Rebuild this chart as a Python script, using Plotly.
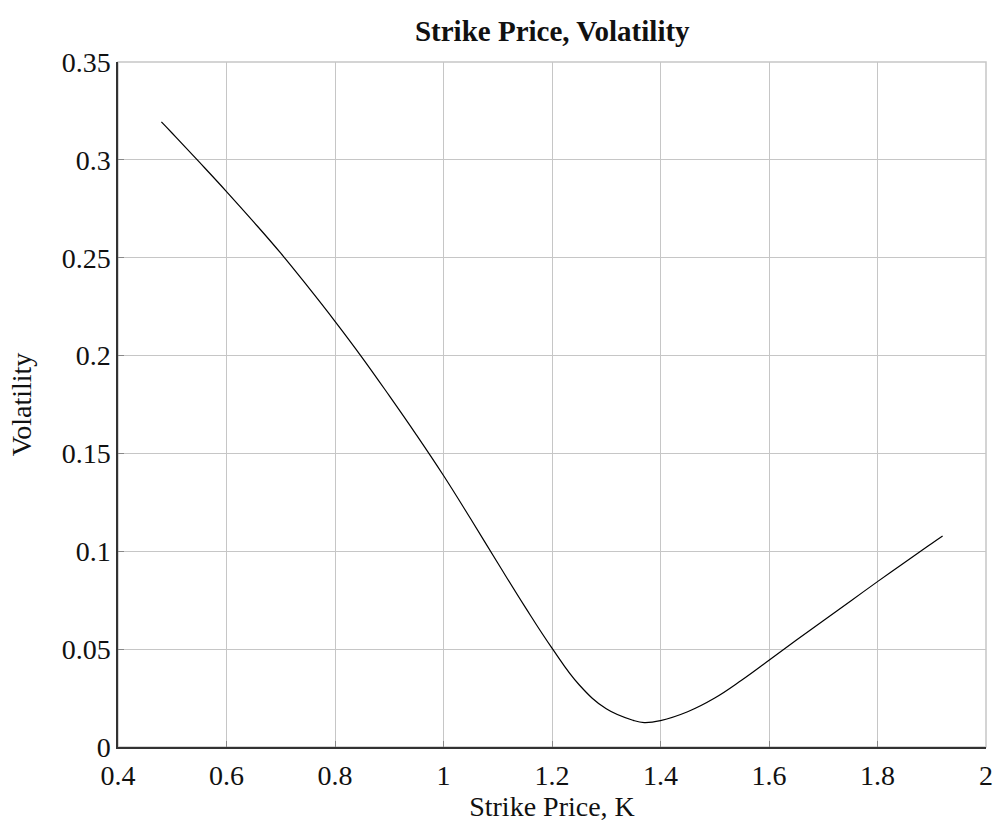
import plotly.graph_objects as go

# Implied volatility smile sampled across strike prices
strike = [0.48, 0.50, 0.55, 0.60, 0.65, 0.70, 0.75, 0.80, 0.85, 0.90, 0.95,
          1.00, 1.05, 1.10, 1.15, 1.20, 1.25, 1.30, 1.35, 1.37, 1.40, 1.45,
          1.50, 1.55, 1.60, 1.65, 1.70, 1.75, 1.80, 1.85, 1.90, 1.92]
volatility = [0.3194, 0.3136, 0.2988, 0.2838, 0.2683, 0.2523, 0.2352, 0.2175,
              0.1990, 0.1795, 0.1595, 0.1387, 0.1166, 0.0940, 0.0717, 0.0505,
              0.0318, 0.0195, 0.0136, 0.0125, 0.0135, 0.0180, 0.0250, 0.0342,
              0.0443, 0.0545, 0.0645, 0.0745, 0.0845, 0.0943, 0.1040, 0.1078]

x_ticks = [0.4, 0.6, 0.8, 1.0, 1.2, 1.4, 1.6, 1.8, 2.0]
x_tick_text = ["0.4", "0.6", "0.8", "1", "1.2", "1.4", "1.6", "1.8", "2"]
y_ticks = [0, 0.05, 0.1, 0.15, 0.2, 0.25, 0.3, 0.35]
y_tick_text = ["0", "0.05", "0.1", "0.15", "0.2", "0.25", "0.3", "0.35"]

FONT = "Liberation Serif"
GRID = "#c6c6c6"
AXIS = "#333333"

fig = go.Figure()
fig.add_trace(go.Scatter(
    x=strike, y=volatility, mode="lines",
    line=dict(color="black", width=1.2, shape="spline", smoothing=1.2),
    showlegend=False, hoverinfo="x+y",
))

# light frame on the top and right sides
fig.add_shape(type="rect", xref="paper", yref="paper", x0=0, y0=0, x1=1, y1=1,
              line=dict(color=GRID, width=1.5), layer="below")

fig.update_layout(
    width=998, height=823,
    margin=dict(l=118, r=12, t=62, b=76),
    paper_bgcolor="white", plot_bgcolor="white",
    font=dict(family=FONT, color="#111111"),
    title=dict(text="<b>Strike Price, Volatility</b>", x=0.5534, xanchor="center",
               y=0.962, yanchor="middle", font=dict(family=FONT, size=29, color="#111111")),
)
fig.update_xaxes(
    range=[0.4, 2.0], tickvals=x_ticks, ticktext=x_tick_text,
    showgrid=True, gridcolor=GRID, gridwidth=1,
    showline=True, linecolor=AXIS, linewidth=1.5,
    ticks="inside", ticklen=6, tickcolor="#888888", tickwidth=1.2,
    automargin=False, ticklabelstandoff=3,
    tickfont=dict(family=FONT, size=28), zeroline=False,
    title=dict(text="Strike Price, K", font=dict(family=FONT, size=28), standoff=0),
)
fig.update_yaxes(
    range=[0, 0.35], tickvals=y_ticks, ticktext=y_tick_text,
    showgrid=True, gridcolor=GRID, gridwidth=1,
    showline=True, linecolor=AXIS, linewidth=1.5,
    ticks="inside", ticklen=6, tickcolor="#888888", tickwidth=1.2,
    automargin=False,
    tickfont=dict(family=FONT, size=28), zeroline=False,
    title=dict(text="Volatility", font=dict(family=FONT, size=28), standoff=22),
)

fig.write_html("out.html")
